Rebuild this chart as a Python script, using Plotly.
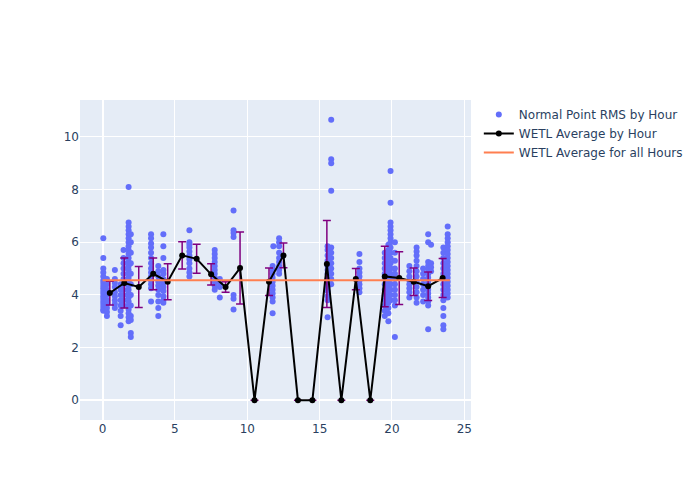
import plotly.graph_objects as go

col_hours = [0.05, 0.3, 0.85, 1.25, 1.45, 1.8, 1.95, 3.35, 3.85, 4.2, 6.0, 7.75, 8.1, 9.05,
             11.75, 11.8, 12.2, 15.55, 15.8, 17.75, 19.5, 19.75, 19.9, 20.2, 21.2, 21.7,
             22.15, 22.5, 22.7, 23.55, 23.85]
col_values = [
    [6.15, 5.4, 5.0, 4.85, 4.7, 4.55, 4.45, 4.35, 4.25, 4.15, 4.05, 3.95, 3.85, 3.75, 3.65, 3.55, 3.45, 3.4],
    [4.6, 4.4, 4.2, 4.0, 3.8, 3.65, 3.5, 3.35, 3.2],
    [4.95, 4.6, 4.45, 4.3, 4.1, 3.95, 3.8, 3.65, 3.5],
    [4.4, 4.2, 4.0, 3.8, 3.6, 3.4, 3.2, 2.85],
    [5.7, 5.4, 5.2, 5.0, 4.8, 4.6, 4.4, 4.2, 4.0, 3.8, 3.6],
    [8.1, 6.75, 6.6, 6.45, 6.3, 6.15, 6.0, 5.85, 5.7, 5.55, 5.4, 5.25, 5.1, 4.95, 4.8, 4.65,
     4.5, 4.35, 4.2, 4.05, 3.9, 3.75, 3.6, 3.45, 3.3, 3.15, 3.0],
    [6.3, 6.0, 5.6, 5.2, 4.8, 4.4, 4.0, 3.6, 3.2, 3.05, 2.55, 2.4],
    [6.3, 6.15, 5.95, 5.8, 5.6, 5.4, 5.2, 5.0, 4.85, 4.7, 4.55, 4.4, 4.25, 3.75],
    [5.1, 4.9, 4.7, 4.5, 4.35, 4.2, 4.0, 3.75, 3.5, 3.2],
    [6.3, 5.85, 5.4, 4.95, 4.8, 4.6, 4.45, 4.3, 4.15, 3.95, 3.8, 3.7],
    [6.45, 6.0, 5.9, 5.8, 5.65, 5.5, 5.35, 5.2, 5.0, 4.85, 4.7],
    [5.7, 5.55, 5.4, 5.25, 5.1, 4.95, 4.8, 4.65, 4.5, 4.35, 4.2],
    [4.6, 4.45, 4.3, 3.9],
    [7.2, 6.45, 6.35, 6.2, 4.0, 3.85, 3.45],
    [5.1, 4.95, 4.8, 4.65, 4.5, 4.35, 4.2, 4.05, 3.9, 3.75, 3.3],
    [5.85],
    [6.15, 6.0, 5.85, 5.6, 5.4, 5.25, 5.1, 4.95, 4.8],
    [5.85, 5.7, 5.5, 5.3, 5.1, 4.95, 4.8, 4.6, 4.45, 4.3, 4.15, 3.95, 3.8, 3.15],
    [10.65, 9.15, 9.0, 7.95, 5.8, 5.6, 5.4, 5.2, 5.0, 4.8, 4.6, 4.4],
    [5.55, 5.25, 5.0, 4.85, 4.7, 4.55, 4.4, 4.25, 4.1],
    [5.6, 5.4, 5.2, 5.0, 4.8, 4.6, 4.4, 4.2, 4.0, 3.8, 3.6, 3.4, 3.2],
    [5.9, 5.7, 5.5, 5.3, 5.1, 4.9, 4.7, 4.5, 4.3, 4.1, 3.9, 3.7, 3.5, 3.3, 3.0],
    [8.7, 7.5, 6.75, 6.6, 6.45, 6.3, 6.15, 6.0, 5.8, 5.6, 5.4, 5.2, 5.0, 4.8, 4.6, 4.4, 4.2, 4.0, 3.8],
    [6.0, 5.6, 5.3, 5.0, 4.8, 4.6, 4.4, 4.2, 4.0, 3.8, 3.6, 2.4],
    [5.1, 4.9, 4.7, 4.55, 4.4, 4.25, 4.1, 3.9],
    [5.8, 5.65, 5.5, 5.3, 5.1, 4.9, 4.7, 4.5, 4.3, 4.1, 3.9, 3.7],
    [5.0, 4.8, 4.6, 4.4, 4.2, 4.0, 3.75],
    [6.3, 6.0, 5.25, 5.1, 4.95, 4.8, 4.65, 4.5, 4.35, 4.2, 4.05, 3.9, 3.75, 3.6, 2.7],
    [5.9, 5.2, 5.05, 4.9],
    [5.8, 5.6, 5.4, 5.2, 5.0, 4.8, 4.6, 4.4, 4.2, 4.0, 3.8, 3.5, 3.2, 2.85, 2.7],
    [6.6, 6.3, 6.15, 6.0, 5.85, 5.7, 5.55, 5.4, 5.25, 5.1, 4.95, 4.8, 4.65, 4.5, 4.35, 4.2, 4.05, 3.9],
]

# Hourly averages and their spread
avg_hours = [0.5, 1.5, 2.5, 3.5, 4.5, 5.5, 6.5, 7.5, 8.5, 9.5, 10.5, 11.5,
             12.5, 13.5, 14.5, 15.5, 16.5, 17.5, 18.5, 19.5, 20.5, 21.5, 22.5, 23.5]
avg_values = [4.07, 4.45, 4.3, 4.8, 4.5, 5.5, 5.37, 4.78, 4.3, 5.02, 0, 4.5,
              5.5, 0, 0, 5.17, 0, 4.6, 0, 4.7, 4.64, 4.5, 4.33, 4.64]
avg_errors = [0.45, 0.95, 0.78, 0.6, 0.68, 0.52, 0.55, 0.4, 0.2, 1.37, 0, 0.52,
              0.47, 0, 0, 1.65, 0, 0.4, 0, 1.15, 1.0, 0.52, 0.54, 0.74]

overall_hours = [0, 24]
overall_value = 4.56

pts_x, pts_y = [], []
for h, vals in zip(col_hours, col_values):
    for v in vals:
        pts_x.append(h)
        pts_y.append(v)

fig = go.Figure()
fig.add_trace(go.Scatter(
    x=pts_x, y=pts_y, mode="markers", name="Normal Point RMS by Hour",
    marker=dict(color="#636EFA", size=6),
))
fig.add_trace(go.Scatter(
    x=avg_hours, y=avg_values, mode="lines+markers", name="WETL Average by Hour",
    line=dict(color="black", width=2), marker=dict(color="black", size=6),
    error_y=dict(type="data", array=avg_errors, visible=True, color="purple",
                 thickness=1.5, width=4),
))
fig.add_trace(go.Scatter(
    x=overall_hours, y=[overall_value] * len(overall_hours), mode="lines",
    name="WETL Average for all Hours", line=dict(color="coral", width=2),
))
fig.update_layout(width=700, height=500, template="plotly",
                  font=dict(family="DejaVu Sans", size=12))
fig.write_html("out.html")
